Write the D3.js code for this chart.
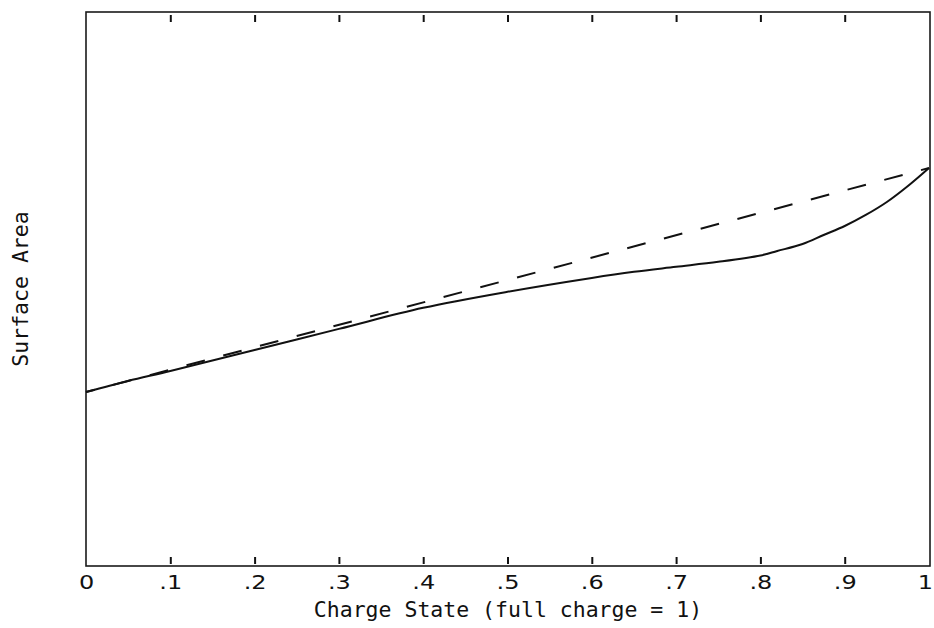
<!DOCTYPE html>
<html>
<head>
<meta charset="utf-8">
<script src="https://cdn.jsdelivr.net/npm/d3@7"></script>
<style>
  html, body { margin: 0; padding: 0; background: #fff; }
  svg { display: block; }
  .title { font-family: "DejaVu Sans Mono", "Liberation Mono", monospace; fill: #111; }
  .ticklab { font-family: "DejaVu Sans", "Liberation Sans", sans-serif; fill: #111; }
</style>
</head>
<body>
<svg id="chart" width="934" height="628"></svg>
<script>
// Charge state (x) and surface area (arbitrary units, y)
const chargeState = [0, 0.05, 0.1, 0.2, 0.3, 0.4, 0.5, 0.6, 0.65, 0.7, 0.75, 0.8, 0.82, 0.85, 0.875, 0.9, 0.925, 0.95, 0.975, 1.0];
const surfaceArea = [0.314, 0.334, 0.352, 0.390, 0.428, 0.466, 0.495, 0.520, 0.531, 0.540, 0.549, 0.5605, 0.5686, 0.5812, 0.5975, 0.6137, 0.6336, 0.657, 0.6859, 0.7184];
// Straight (dashed) reference line between the end points
const linearX = [0, 1];
const linearY = [0.314, 0.7184];
const xTicks = [0, 0.1, 0.2, 0.3, 0.4, 0.5, 0.6, 0.7, 0.8, 0.9, 1];
const xTickLabels = ["0", ".1", ".2", ".3", ".4", ".5", ".6", ".7", ".8", ".9", "1"];
const xTitle = "Charge State (full charge = 1)";
const yTitle = "Surface Area";

const svg = d3.select("#chart");
const L = 86, R = 930, T = 12, B = 566;

const x = d3.scaleLinear().domain([0, 1]).range([L, R - 1]);
const y = d3.scaleLinear().domain([0, 1]).range([B, T]);

// frame
svg.append("rect")
  .attr("x", L).attr("y", T).attr("width", R - L).attr("height", B - T)
  .attr("fill", "none").attr("stroke", "#1a1a1a").attr("stroke-width", 1.6);

// bottom axis labels
const innerTicks = xTicks.slice(1, -1);
const bottom = svg.append("g").attr("transform", `translate(0,${B})`)
  .call(d3.axisBottom(x).tickValues(xTicks).tickSize(0)
    .tickFormat((d, i) => xTickLabels[i]));
bottom.attr("font-family", null).attr("font-size", null);
bottom.select(".domain").remove();
bottom.selectAll("text")
  .attr("class", "ticklab")
  .attr("y", 23).attr("dy", 0)
  .style("font-size", "20px")
  .style("font-family", "'DejaVu Sans', 'Liberation Sans', sans-serif")
  .attr("transform", "scale(1.2,1)");
bottom.selectAll(".tick").filter(d => d === 1).select("text")
  .attr("text-anchor", "end").attr("x", 3);

// bottom inward ticks
const bt = svg.append("g").attr("transform", `translate(0,${B})`)
  .call(d3.axisBottom(x).tickValues(innerTicks).tickSize(0).tickFormat(""));
bt.select(".domain").remove();
bt.selectAll(".tick line").attr("y1", -2).attr("y2", -9)
  .attr("stroke", "#111").attr("stroke-width", 2);

// top inward ticks
const tp = svg.append("g").attr("transform", `translate(0,${T})`)
  .call(d3.axisTop(x).tickValues(innerTicks).tickSize(0).tickFormat(""));
tp.select(".domain").remove();
tp.selectAll(".tick line").attr("y1", 3).attr("y2", 10)
  .attr("stroke", "#111").attr("stroke-width", 2);

// titles
svg.append("text").attr("class", "title")
  .attr("x", (L + R) / 2).attr("y", 617)
  .attr("text-anchor", "middle").style("font-size", "21.5px")
  .text(xTitle);

svg.append("text").attr("class", "title")
  .attr("transform", `translate(28,${(T + B) / 2}) rotate(-90)`)
  .attr("text-anchor", "middle").style("font-size", "21.5px")
  .text(yTitle);

// lines
const line = d3.line().x(d => x(d[0])).y(d => y(d[1])).curve(d3.curveCatmullRom);

svg.append("path")
  .datum(linearX.map((v, i) => [v, linearY[i]]))
  .attr("d", d3.line().x(d => x(d[0])).y(d => y(d[1])))
  .attr("fill", "none").attr("stroke", "#111").attr("stroke-width", 2)
  .attr("stroke-dasharray", "19,19").attr("stroke-dashoffset", 10);

svg.append("path")
  .datum(chargeState.map((v, i) => [v, surfaceArea[i]]))
  .attr("d", line)
  .attr("fill", "none").attr("stroke", "#111").attr("stroke-width", 2);
</script>
</body>
</html>
